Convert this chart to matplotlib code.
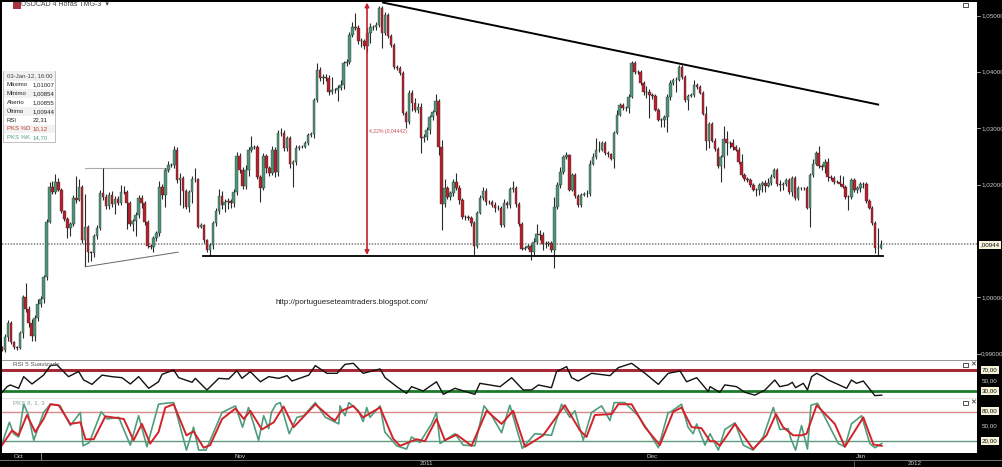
import matplotlib

matplotlib.use("Agg")
import matplotlib.pyplot as plt
from matplotlib.lines import Line2D
from matplotlib.patches import Rectangle

WIDTH, HEIGHT = 1003, 467

# USDCAD 4h candles
closes = [
    0.9906, 0.9929, 0.9954, 0.9921, 0.9912, 0.9910, 0.9937, 1.0001, 0.9979, 0.9954,
    0.9931, 0.9963, 0.9988, 0.9997, 1.0036, 1.0134, 1.0196, 1.0187, 1.0205, 1.0191,
    1.0153, 1.0139, 1.0123, 1.0130, 1.0176, 1.0173, 1.0196, 1.0102, 1.0125, 1.0080,
    1.0079, 1.0109, 1.0123, 1.0185, 1.0178, 1.0162, 1.0182, 1.0166, 1.0175, 1.0167,
    1.0187, 1.0187, 1.0167, 1.0130, 1.0135, 1.0146, 1.0176, 1.0167, 1.0134, 1.0091,
    1.0089, 1.0105, 1.0114, 1.0196, 1.0182, 1.0226, 1.0235, 1.0235, 1.0262, 1.0208,
    1.0212, 1.0189, 1.0160, 1.0187, 1.0210, 1.0210, 1.0125, 1.0128, 1.0102, 1.0084,
    1.0093, 1.0132, 1.0153, 1.0180, 1.0164, 1.0169, 1.0171, 1.0167, 1.0187, 1.0251,
    1.0226, 1.0198, 1.0226, 1.0262,
    1.0267, 1.0267, 1.0214, 1.0194, 1.0251, 1.0230, 1.0221, 1.0262, 1.0223, 1.0292,
    1.0292, 1.0265, 1.0283, 1.0237, 1.0240, 1.0265, 1.0267, 1.0267, 1.0274, 1.0288,
    1.0290, 1.0350, 1.0404, 1.0389, 1.0391, 1.0389, 1.0365, 1.0368, 1.0368, 1.0372,
    1.0377,
    1.0416, 1.0418, 1.0466, 1.0480, 1.0478, 1.0455, 1.0455, 1.0446, 1.0469, 1.0480,
    1.0480, 1.0484, 1.0514, 1.0469, 1.0501, 1.0464, 1.0448, 1.0409, 1.0407, 1.0398,
    1.0327, 1.0311, 1.0363, 1.0345, 1.0333, 1.0338, 1.0283, 1.0285, 1.0297, 1.0320,
    1.0329, 1.0349, 1.0267, 1.0166, 1.0194, 1.0178, 1.0185, 1.0205, 1.0194, 1.0173,
    1.0143, 1.0143, 1.0141, 1.0132, 1.0091, 1.0150, 1.0176, 1.0189, 1.0169, 1.0169,
    1.0164, 1.0159, 1.0159, 1.0128, 1.0167, 1.0164, 1.0192, 1.0194, 1.0166, 1.0130,
    1.0086, 1.0088, 1.0091, 1.0080, 1.0098, 1.0112, 1.0111, 1.0095, 1.0095, 1.0096,
    1.0084, 1.0160, 1.0199, 1.0223, 1.0249, 1.0253, 1.0191, 1.0217, 1.0180, 1.0164,
    1.0182, 1.0183, 1.0183, 1.0237, 1.0249, 1.0262, 1.0262, 1.0274, 1.0256, 1.0254,
    1.0246, 1.0292, 1.0324, 1.0342, 1.0336, 1.0336, 1.0356, 1.0416, 1.0400, 1.0400,
    1.0381, 1.0365, 1.0365, 1.0359, 1.0358, 1.0333, 1.0315, 1.0315, 1.0320, 1.0356,
    1.0381, 1.0386, 1.0386, 1.0409, 1.0391, 1.0350, 1.0358, 1.0359, 1.0377, 1.0373,
    1.0363, 1.0326, 1.0278, 1.0308, 1.0278, 1.0263, 1.0233, 1.0249, 1.0281, 1.0274,
    1.0274, 1.0267, 1.0262, 1.0240, 1.0217, 1.0210, 1.0208, 1.0199, 1.0191, 1.0191,
    1.0199, 1.0203, 1.0198, 1.0203, 1.0214, 1.0226, 1.0201, 1.0199, 1.0201, 1.0208,
    1.0187, 1.0212, 1.0176, 1.0194, 1.0194, 1.0194, 1.0159, 1.0217, 1.0237, 1.0256,
    1.0233, 1.0231, 1.0240, 1.0214, 1.0212, 1.0205, 1.0205, 1.0201, 1.0196, 1.0178,
    1.0178, 1.0208, 1.0191, 1.0194, 1.0201, 1.0201, 1.0171, 1.0159, 1.0132, 1.0088,
    1.0088, 1.0093,
]

# wick length above / below the body, in pips
wick_up = [
    1, 6, 5, 3, 2, 1, 3, 3, 25, 6,
    8, 6, 8, 5, 4, 5, 8, 10, 14, 6,
    3, 2, 3, 4, 5, 40, 13, 3, 59, 4,
    2, 3, 5, 6, 44, 6, 4, 6, 5, 4,
    12, 10, 4, 3, 3, 5, 5, 5, 3, 3,
    3, 4, 4, 10, 5, 3, 6, 3, 6, 5,
    8, 3, 3, 4, 5, 20, 2, 3, 2, 2,
    3, 4, 5, 12, 8, 5, 5, 3, 5, 6,
    5, 5, 8, 4,
    20, 4, 3, 3, 5, 3, 3, 6, 4, 5,
    8, 4, 4, 3, 3, 6, 4, 3, 3, 4,
    4, 4, 12, 5, 6, 5, 5, 22, 4, 4,
    8,
    4, 4, 5, 8, 25, 5, 5, 4, 10, 6,
    4, 5, 3, 3, 5, 4, 4, 4, 3, 3,
    3, 3, 5, 5, 8, 6, 6, 5, 5, 4,
    4, 12, 3, 12, 15, 4, 4, 5, 15, 6,
    3, 3, 3, 3, 3, 3, 6, 6, 4, 3,
    3, 5, 4, 3, 7, 4, 4, 12, 3, 3,
    3, 3, 3, 3, 7, 18, 8, 5, 5, 4,
    3, 18, 6, 8, 3, 5, 2, 3, 4, 3,
    3, 4, 8, 6, 7, 20, 15, 4, 3, 3,
    2, 3, 8, 3, 3, 4, 4, 3, 4, 4,
    3, 3, 10, 4, 4, 3, 3, 3, 3, 4,
    5, 3, 4, 3, 4, 4, 3, 4, 9, 3,
    3, 3, 13, 3, 3, 5, 3, 3, 23, 14,
    4, 6, 4, 4, 14, 3, 3, 3, 3, 3,
    3, 3, 5, 8, 4, 3, 3, 7, 4, 3,
    3, 3, 3, 3, 2, 2, 3, 3, 9, 3,
    12, 3, 5, 7, 3, 3, 3, 12, 15, 3,
    3, 3, 3, 3, 4, 4, 3, 3, 3, 4,
    35, 8,
]
wick_down = [
    1, 3, 6, 4, 4, 4, 1, 10, 5, 6,
    8, 8, 6, 5, 8, 5, 2, 3, 3, 3,
    4, 4, 18, 14, 3, 6, 3, 6, 47, 18,
    15, 8, 5, 3, 5, 6, 5, 5, 18, 4,
    4, 4, 46, 4, 12, 27, 5, 8, 5, 4,
    4, 8, 6, 6, 8, 21, 4, 4, 5, 5,
    45, 30, 3, 8, 20, 5, 3, 3, 6, 3,
    10, 8, 5, 5, 7, 12, 12, 9, 7, 5,
    6, 6, 6, 10,
    4, 4, 5, 25, 4, 10, 6, 4, 10, 8,
    6, 6, 5, 8, 42, 5, 4, 3, 3, 3,
    3, 8, 3, 5, 10, 6, 6, 5, 6, 20,
    5,
    8, 6, 4, 5, 4, 5, 10, 5, 10, 18,
    6, 6, 4, 26, 4, 4, 4, 4, 3, 3,
    3, 10, 3, 14, 4, 6, 27, 8, 6, 8,
    5, 5, 15, 46, 6, 4, 5, 5, 3, 8,
    4, 6, 4, 5, 16, 3, 3, 4, 5, 4,
    4, 8, 4, 3, 3, 6, 5, 5, 5, 3,
    3, 3, 3, 14, 5, 4, 10, 12, 8, 4,
    3, 32, 4, 5, 4, 4, 3, 3, 3, 3,
    3, 3, 5, 3, 3, 3, 5, 3, 3, 5,
    3, 16, 3, 3, 3, 6, 9, 3, 3, 3,
    4, 6, 12, 41, 6, 3, 3, 12, 12, 27,
    6, 4, 22, 3, 4, 3, 18, 3, 3, 3,
    3, 3, 17, 13, 3, 3, 3, 28, 20, 21,
    10, 5, 3, 3, 3, 3, 3, 3, 3, 12,
    10, 12, 12, 3, 3, 3, 3, 10, 8, 3,
    4, 7, 3, 4, 3, 3, 3, 35, 3, 3,
    3, 6, 10, 7, 4, 4, 3, 4, 3, 4,
    23, 3, 5, 6, 8, 8, 3, 3, 3, 10,
    14, 3,
]

rsi_bars = [
    0, 1.7, 2.8, 5.6, 7.3, 10.1, 14, 16.3, 18.5, 22.4, 25.8, 27.5, 30.3, 33.7, 37, 40.4,
    43.2, 46, 49.4, 52.7, 53.9, 57.8, 59.5, 64, 65.1, 69, 73, 76.3, 79.1, 80.8, 83.6, 87,
    89.8, 93.2, 96, 97.6, 103.3, 105.5, 109.4, 112.8, 115.5, 118.3, 121.6, 127.3, 129,
    132.9, 136.2, 137.9, 141.8, 146.3, 148.6, 152.5, 159.2, 160.9, 167.7, 171.6, 175.5,
    178.3, 180.6, 185, 186.7, 190.1, 191.8, 194, 198.5, 204.7, 207.5, 212, 216.5, 221,
    224.3, 228.3, 230.5, 233.9, 237.8, 238.4, 241.7, 243.4, 247.3, 250.1, 253.5, 256.9,
    260.2, 261.9, 264.7, 266.1, 267.2, 269.8, 271.2, 272.6, 274.3, 276.5, 278.2, 284.4,
    286, 287.7, 290, 293.9, 296.2,
]
rsi_values = [
    26.4, 37.5, 40.8, 34.3, 57, 42.7, 60, 78.5, 80, 57, 67, 50.5, 42, 60, 57, 55,
    42.7, 57, 34.3, 47, 61.5, 70, 55, 46, 53.7, 31, 53.7, 52.4, 68.7, 53.7, 66.7, 47,
    57, 53.7, 59, 48.5, 60, 78.5, 63.5, 63.5, 81, 83, 63.5, 72, 55,
    37.5, 24.5, 37.5, 29, 47, 22.5, 34.3, 22.5, 44, 37.5, 55, 31,
    31, 40.8, 35.5, 66.7, 76.5, 55, 48.5, 63.5, 59, 74.5, 83, 63.5, 42,
    63.5, 68, 47, 55, 28, 37.5, 26.5, 41, 37.5, 26.5, 21, 31,
    50.5, 37.5, 41, 46, 35.5, 44, 31, 57, 63.5, 57, 50.5, 34.3,
    50.5, 44, 48.5, 20, 21,
]

k_bars = [
    0, 2.5, 3.9, 5.6, 7.3, 8.8, 10.7, 14, 16.3, 19.6, 23, 26.4, 27.3, 29.4, 33.4, 35.4,
    39.3, 43.2, 46, 48.8, 52.7, 55, 57.8, 62.1, 64.5, 66.2, 68.7, 74.1, 78.6, 81, 83,
    86.4, 88.1, 89.8, 90.7, 92.3, 93.7, 96.7, 99.3, 101.6, 105.5, 108.9, 113.4, 113.8,
    115.5, 116.8, 120, 121.6, 122.8, 123.9, 127.3, 128.9, 132.9, 136.2, 137.9, 140.7,
    144.6, 146.3, 147.5, 152.5, 155.3, 159.2, 162.3, 164.9, 168.2, 171, 175.2, 179.4,
    185, 188.4, 191.2, 192.9, 195.7, 198.5, 201.9, 204.7, 206.1, 209.7, 214.2, 218.2,
    221, 224.3, 224.9, 228.8, 231, 232.7, 233.9, 236.7, 238.4, 241.2, 243.4, 246.8,
    249.6, 252.9, 256.3, 259.7, 261.9, 264.7, 265.6, 267.2, 269.2, 271.2, 272.4, 274.6,
    276.5, 281.6, 283.8, 286, 289.4, 292.2, 293.9, 296.2,
]
k_values = [
    14.6, 58.4, 34.8, 28.1, 95.5, 75.3, 21.4, 78.7, 95.5, 92.1, 51.7, 78.7, 9.9, 16.6, 80, 65.2,
    68.5, 11.3, 71.9, 7.9, 95.5, 97.5, 98.9, 1.1, 48.3, 1.1, 1.1, 78.7, 92.1, 48.3, 88.8,
    21.4, 71.9, 45, 78.7, 95.5, 98.9, 34.8, 68.5, 71.9, 98.9, 68.5, 55, 92.1,
    71.9, 98.9, 82, 59.8, 88.8, 68.5, 92.1, 38.2, 9.9, 3.2, 28.1, 16.6,
    55, 78.7, 14.6, 34.8, 11.3, 9.9, 92.1, 71.9, 36.9, 93.5, 4.5, 34.8,
    31.5, 95.5, 68.5, 82, 21.4, 78.7, 92.1, 61.8, 98.9, 98.9, 71.9, 34.8,
    5.9, 78.7, 78.7, 95.5, 48.3, 34.8, 55, 11.3, 34.8, 1.1, 43.6, 57.1,
    11.3, 1.1, 28.1, 88.8, 43.6, 45, 24.7, 1.1, 51.7, 3.2, 93.5, 97.5,
    75.3, 14.6, 7.9, 55, 71.9, 14.6, 5.9, 14.6,
]

d_bars = [
    0, 3.4, 5.6, 8.4, 11.2, 14, 16.3, 19.1, 23, 26.4, 28.1, 30.9, 34.8, 41, 44.3, 47.1,
    49.9, 52.7, 55, 57.8, 62.1, 64.5, 67.9, 70.1, 74.1, 78.6, 81.4, 83.6, 87.5, 91.5,
    94.8, 98.2, 105.5, 110.5, 112.1, 114.3, 118.3, 121.6, 127.3, 131.7, 134, 139.6,
    142.4, 146.3, 149.1, 153.1, 158.1, 163.2, 168.2, 172.1, 176.1, 182.2, 189.5, 194.6,
    196.8, 199.6, 205.3, 207.5, 212, 216.5, 221.5, 226, 228.8, 232.2, 235.5, 238.4, 240,
    241.7, 246.8, 252.9, 257.4, 260.6, 263, 266.4, 269.2, 270.9, 274.3, 280.4, 283.8,
    290, 293.4, 296.2,
]
d_values = [
    11.3, 41.6, 31.5, 73.3, 38.2, 65.2, 95.5, 93.5, 55, 58.4, 23.4, 23.4, 70.6, 65.2, 21.4, 55,
    14.6, 38.2, 88.8, 95.5, 31.5, 39.6, 5.9, 11.3, 65.2, 86.7, 65.2, 82, 43.6, 58.4,
    90.8, 48.3, 95.5, 68.5, 61.8, 82, 92.1, 68.5, 88.8, 24.7, 9.9, 23.4,
    19.3, 65.2, 21.4, 32.8, 9.9, 82, 55, 82, 7.9, 31.5, 93.5, 41.6,
    28.1, 73.3, 75.3, 95.5, 95.5, 48.3, 11.3, 80, 88.8, 48.3, 46.3, 19.3, 19.3,
    9.9, 55, 3.2, 31.5, 75.3, 48.3, 31.5, 31.5, 34.8, 93.5, 55, 7.9,
    68.5, 12.6, 9.9,
]

price_ticks = [1.05, 1.04, 1.03, 1.02, 1.00, 0.99]
price_labels = ["1,05000", "1,04000", "1,03000", "1,02000", "1,00000", "0,99000"]
last_price = 1.00944
info_rows = [
    ("Máximo", "1,01007", "#222222"),
    ("Mínimo", "1,00854", "#222222"),
    ("Aberto", "1,00855", "#222222"),
    ("Último", "1,00944", "#222222"),
    ("RSI", "22,31", "#222222"),
    ("PKS %D", "10,12", "#c0392b"),
    ("PKS %K", "14,70", "#4f9d7c"),
]
months = [("Oct", 19), ("Nov", 240), ("Dec", 652), ("Jan", 861)]
years = [("2011", 426), ("2012", 915)]

UP = "#4f9478"
DOWN = "#b8202c"
BAR_STEP = 2.97


def x_lim(left, right):
    return (left - 2) / BAR_STEP, (right - 2) / BAR_STEP


def add_panel(left, top, right, bottom):
    # pixel box -> axes
    ax = fig.add_axes(
        [left / WIDTH, 1 - bottom / HEIGHT, (right - left) / WIDTH, (bottom - top) / HEIGHT]
    )
    ax.set_facecolor("white")
    ax.set_xlim(*x_lim(left, right))
    ax.set_xticks([])
    ax.set_yticks([])
    for spine in ax.spines.values():
        spine.set_visible(False)
    return ax


def px_text(x, y, s, **kwargs):
    kwargs.setdefault("fontsize", 4.5)
    kwargs.setdefault("va", "center")
    kwargs.setdefault("family", "Liberation Sans")
    return fig.text(x / WIDTH, 1 - y / HEIGHT, s, **kwargs)


def px_rect(x, y, w, h, **kwargs):
    fig.add_artist(Rectangle((x / WIDTH, 1 - (y + h) / HEIGHT), w / WIDTH, h / HEIGHT,
                             transform=fig.transFigure, **kwargs))


def px_line(x0, y0, x1, y1, **kwargs):
    fig.add_artist(Line2D([x0 / WIDTH, x1 / WIDTH], [1 - y0 / HEIGHT, 1 - y1 / HEIGHT],
                          transform=fig.transFigure, **kwargs))


def axis_tag(y, s):
    px_text(990, y, s, color="#111111", ha="center", fontsize=4.5,
            bbox=dict(boxstyle="square,pad=0.25", fc="#f6f3d9", ec="none"))


fig = plt.figure(figsize=(WIDTH / 100, HEIGHT / 100), dpi=100, facecolor="black")

# price panel
ax = add_panel(2, 2, 977, 360)
ax.set_ylim(0.98886, 1.0524)
opens = [closes[0] + 0.0006] + closes[:-1]
for i, (o, c, up, dn) in enumerate(zip(opens, closes, wick_up, wick_down)):
    top, bot = max(o, c), min(o, c)
    ax.vlines(i, bot - dn / 10000, top + up / 10000, color="#2a2a2a", lw=0.8, zorder=2)
    ax.bar(i, top - bot, bottom=bot, width=0.85, color=UP if c >= o else DOWN,
           edgecolor="#2a2a2a", linewidth=0.25, zorder=3)

ax.axhline(last_price, color="#8f8f8f", lw=1.3, ls=(0, (0.8, 0.8)), zorder=1)
# drawn trend lines
ax.plot([128.3, 295], [1.0523, 1.0342], color="black", lw=1.4, zorder=4)
ax.plot([67.7, 296.6], [1.0073, 1.0073], color="black", lw=1.3, zorder=4)
ax.plot([28, 56], [1.0230, 1.0230], color="#aaaaaa", lw=0.8, zorder=1)
ax.plot([28, 59.3], [1.0054, 1.0080], color="#666666", lw=0.7, zorder=1)
ax.annotate("", xy=(122.9, 1.0523), xytext=(122.9, 1.0075),
            arrowprops=dict(arrowstyle="<|-|>", color="#c8202c", lw=1.2, mutation_scale=6,
                            shrinkA=0, shrinkB=0), zorder=5)

# RSI panel
ax_rsi = add_panel(2, 361, 977, 398)
ax_rsi.set_ylim(15.4, 87.5)
ax_rsi.axhline(70, color="#a52a35", lw=2.2)
ax_rsi.axhline(30, color="#1d7a2a", lw=2)
ax_rsi.plot(rsi_bars, rsi_values, color="#111111", lw=1)

# stochastic panel
ax_pks = add_panel(2, 399, 977, 453)
ax_pks.set_ylim(-4.9, 106.3)
ax_pks.axhline(80, color="#d98a8a", lw=1)
ax_pks.axhline(20, color="#5f9a80", lw=1)
ax_pks.plot(k_bars, k_values, color="#4f9d7c", lw=1.2)
ax_pks.plot(d_bars, d_values, color="#d3222a", lw=1.4)

# panel separators and time axis
px_rect(2, 360, 975, 1, color="#9a9a9a", lw=0)
px_rect(2, 398, 975, 1, color="#e4e4e4", lw=0)
px_line(0, 460, 1003, 460, color="#777777", lw=0.7)
px_line(40.5, 453, 40.5, 460, color="#888888", lw=0.7)
px_line(854, 460, 854, 467, color="#555555", lw=0.7)
for name, x in months:
    px_text(x, 456.5, name, color="#cccccc", ha="center")
for name, x in years:
    px_text(x, 463.5, name, color="#cccccc", ha="center")

# right hand scale
for value, label in zip(price_ticks, price_labels):
    y = (1.0528 - value) / 0.0001776
    px_line(977, y, 980, y, color="#bbbbbb", lw=0.6)
    px_text(981, y, label, color="#cccccc")
axis_tag(245, ",00944")
axis_tag(370, "70,00")
px_text(990, 380.5, "50,00", color="#cccccc", ha="center")
axis_tag(391, "30,00")
axis_tag(411, "80,00")
px_text(990, 425.5, "50,00", color="#cccccc", ha="center")
axis_tag(441, "20,00")

# header and panel titles
px_rect(13, 2, 8, 7, color="#a83240", lw=0)
px_text(21.5, 5, "USDCAD 4 Horas TMG-3  ▾", color="#444444", fontsize=5,
        family=["Liberation Sans", "DejaVu Sans"])
px_text(13, 365, "RSI 5 Suavizado", color="#555555")
px_text(13, 403, "PKS 8, 1, 3", color="#7fa898")
for y in (4.5, 365, 403):
    px_rect(963.5, y - 2, 5, 4, fill=False, ec="#333333", lw=0.6, zorder=6)
for y in (365, 403):
    px_text(973, y, "✕", color="#222222", ha="center", fontsize=5,
            family=["DejaVu Sans"], zorder=6)

# crosshair info box
px_rect(3.5, 71, 52, 71, fc="white", ec="#b5b5b5", lw=0.6, zorder=6)
px_rect(4, 71.5, 51, 9, color="#f0f0f0", lw=0, zorder=6)
px_text(7, 76, "03-Jan-12, 16:00", color="#444444", fontsize=4.3, zorder=7)
for row, (name, value, colour) in enumerate(info_rows):
    y = 85 + row * 8.8
    if row % 2 == 1:
        px_rect(4, y - 4.4, 51, 8.8, color="#f2f2f2", lw=0, zorder=6)
    px_text(7, y, name, color=colour, fontsize=4.3, zorder=7)
    px_text(33, y, value, color=colour, fontsize=4.3, zorder=7)

px_text(369.5, 132, "4,22% (0,04442)", color="#c8505a", fontsize=3.7)
px_text(275, 303, "http://portugueseteamtraders.blogspot.com/", color="#222222", fontsize=5.7)

plt.savefig("out.png", dpi=100, facecolor=fig.get_facecolor())
plt.close()
